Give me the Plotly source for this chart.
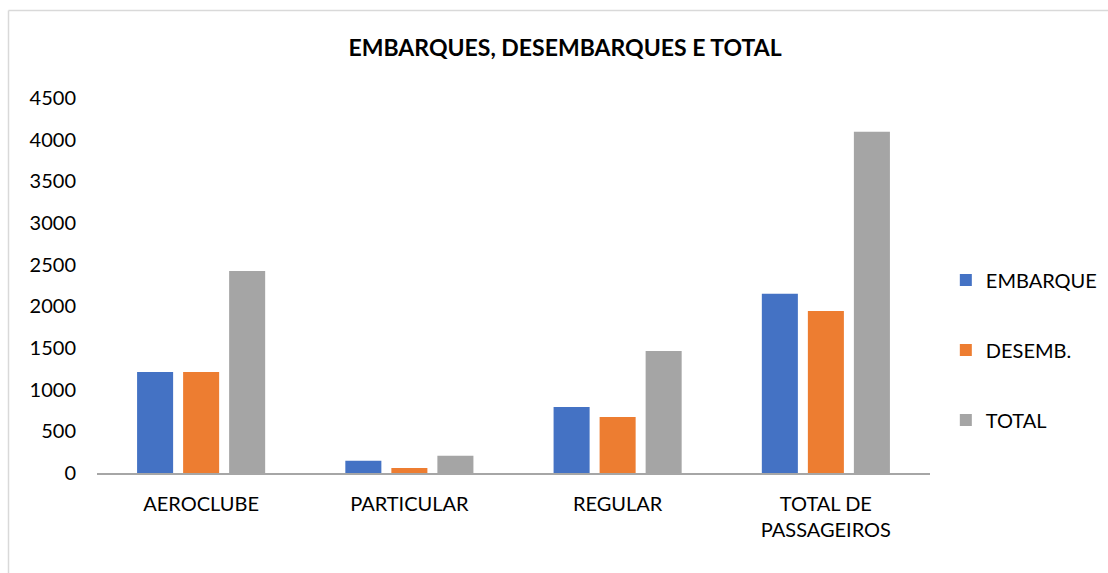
import plotly.graph_objects as go

categories = ["AEROCLUBE", "PARTICULAR", "REGULAR", "TOTAL DE<br>PASSAGEIROS"]
embarque = [1212, 148, 792, 2152]
desemb = [1212, 60, 672, 1944]
total = [2424, 208, 1464, 4096]
series_names = ["EMBARQUE", "DESEMB.", "TOTAL"]
colors = ["#4472C4", "#ED7D31", "#A5A5A5"]
y_ticks = [0, 500, 1000, 1500, 2000, 2500, 3000, 3500, 4000, 4500]

fig = go.Figure()
for name, vals, col in zip(series_names, [embarque, desemb, total], colors):
    fig.add_trace(go.Bar(x=categories, y=vals, name=name, marker_color=col,
                         marker_line_width=0, legendgroup=name))

font_family = "Lato, 'Liberation Sans', sans-serif"
fig.update_layout(
    width=1108, height=573,
    margin=dict(l=97, r=178, t=98, b=100, autoexpand=False),
    paper_bgcolor="white", plot_bgcolor="white",
    barmode="group", bargap=0.337, bargroupgap=0.217,
    font=dict(family=font_family, size=20, color="#000000"),
    title=dict(text="<b>EMBARQUES, DESEMBARQUES E TOTAL</b>", x=0.51, xanchor="center",
               y=1 - 48 / 573, yanchor="middle",
               font=dict(family=font_family, size=23, color="#000000")),
    xaxis=dict(showline=True, linecolor="#A6A6A6", linewidth=1.5, ticks="",
               tickfont=dict(size=20), showgrid=False, ticklabelstandoff=12),
    yaxis=dict(range=[0, 4500], tickvals=y_ticks, showgrid=False, showline=False,
               ticks="", tickfont=dict(size=20), zeroline=False, ticklabelstandoff=20),
    legend=dict(x=1.019, xanchor="left", y=0.328, yanchor="middle",
                font=dict(size=20), tracegroupgap=41, bgcolor="rgba(0,0,0,0)"),
    showlegend=True,
)
fig.add_shape(type="line", xref="paper", yref="paper",
              x0=-88.5 / 833, x1=1 + 200 / 833, y0=1 + 87.5 / 375, y1=1 + 87.5 / 375,
              line=dict(color="#D9D9D9", width=1.5))
fig.add_shape(type="line", xref="paper", yref="paper",
              x0=-88.5 / 833, x1=-88.5 / 833, y0=1 + 87.5 / 375, y1=-120 / 375,
              line=dict(color="#D9D9D9", width=1.5))

fig.write_html("out.html", config={"displayModeBar": False},
               post_script="document.body.style.margin='0';")
